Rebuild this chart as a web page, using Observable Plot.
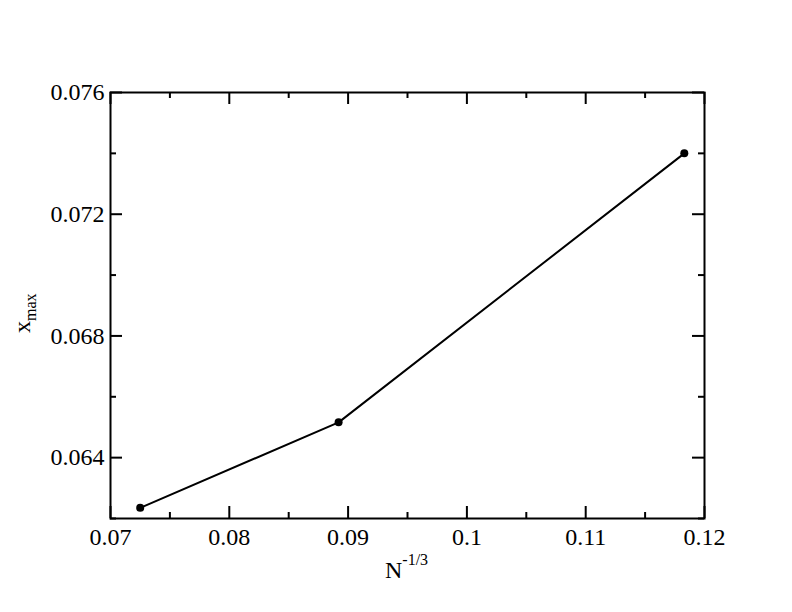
<!DOCTYPE html>
<html><head><meta charset="utf-8">
<script src="https://cdn.jsdelivr.net/npm/d3@7"></script>
<script src="https://cdn.jsdelivr.net/npm/@observablehq/plot@0.6"></script>
<style>
body{margin:0;background:#fff}
svg, svg text, svg g { font-family: "Liberation Serif", "Times New Roman", serif !important; font-variant: normal !important; }
</style>
</head><body><div id="chart"></div>
<script>
const nInvCubeRoot = [0.0725, 0.0892, 0.1183];
const xMaxValues = [0.06235, 0.06516, 0.07400];
const xMajorTicks = [0.07, 0.08, 0.09, 0.10, 0.11, 0.12];
const xMajorLabels = ["0.07", "0.08", "0.09", "0.1", "0.11", "0.12"];
const xMinorTicks = [0.075, 0.085, 0.095, 0.105, 0.115];
const yMajorTicks = [0.064, 0.068, 0.072, 0.076];
const yMajorLabels = ["0.064", "0.068", "0.072", "0.076"];
const yMinorTicks = [0.062, 0.066, 0.070, 0.074];

const W = 792, H = 612, mL = 110, mR = 88, mT = 92, mB = 94;
const iw = W - mL - mR, ih = H - mT - mB;
const font = "Liberation Serif";
const points = nInvCubeRoot.map((x, i) => ({x, y: xMaxValues[i]}));
const tk = {stroke: "black", strokeWidth: 2};

const chart = Plot.plot({
  width: W, height: H,
  marginLeft: mL, marginRight: mR, marginTop: mT, marginBottom: mB,
  style: {background: "white", fontFamily: font},
  x: {domain: [0.07, 0.12], axis: null},
  y: {domain: [0.062, 0.076], axis: null},
  marks: [
    Plot.tickX(xMajorTicks, {x: d => d, insetTop: ih - 12, ...tk}),
    Plot.tickX(xMajorTicks, {x: d => d, insetBottom: ih - 12, ...tk}),
    Plot.tickX(xMinorTicks, {x: d => d, insetTop: ih - 6, ...tk}),
    Plot.tickX(xMinorTicks, {x: d => d, insetBottom: ih - 6, ...tk}),
    Plot.tickY(yMajorTicks, {y: d => d, insetRight: iw - 12, ...tk}),
    Plot.tickY(yMajorTicks, {y: d => d, insetLeft: iw - 12, ...tk}),
    Plot.tickY(yMinorTicks, {y: d => d, insetRight: iw - 6, ...tk}),
    Plot.tickY(yMinorTicks, {y: d => d, insetLeft: iw - 6, ...tk}),
    Plot.frame({stroke: "black", strokeWidth: 2}),
    Plot.text(xMajorTicks, {x: d => d, frameAnchor: "bottom", text: (d, i) => xMajorLabels[i],
      lineAnchor: "top", dy: 9, fontSize: 24, fontFamily: font, fill: "black"}),
    Plot.text(yMajorTicks, {y: d => d, frameAnchor: "left", text: (d, i) => yMajorLabels[i],
      textAnchor: "end", lineAnchor: "middle", dx: -6, fontSize: 24, fontFamily: font, fill: "black"}),
    Plot.line(points, {x: "x", y: "y", stroke: "black", strokeWidth: 2}),
    Plot.dot(points, {x: "x", y: "y", r: 4, fill: "black", stroke: "none"})
  ]
});

const svg = d3.select(chart);
const xl = svg.append("text")
  .attr("x", 385).attr("y", 578).attr("text-anchor", "start")
  .attr("font-family", font).attr("font-size", 24).attr("fill", "black");
xl.append("tspan").text("N");
xl.append("tspan").attr("font-size", 16).attr("dy", -13).text("-1/3");

const yl = svg.append("text")
  .attr("transform", "translate(30,333) rotate(-90)").attr("text-anchor", "start")
  .attr("font-family", font).attr("font-size", 24).attr("fill", "black");
yl.append("tspan").text("x");
yl.append("tspan").attr("font-size", 16).attr("dy", 6).text("max");

document.getElementById("chart").appendChild(chart);
</script>
</body></html>
